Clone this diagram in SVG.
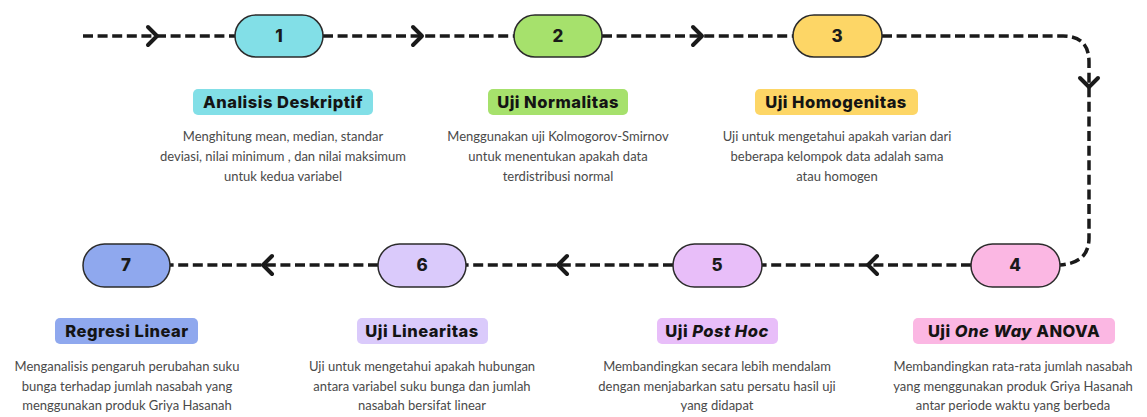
<svg xmlns="http://www.w3.org/2000/svg" width="1147" height="417" viewBox="0 0 1147 417">
<defs>
<style>
.bg{fill:#ffffff}
.pill{stroke:#2b2b2b;stroke-width:1.5}
.num{font-family:Inter,"Liberation Sans",sans-serif;font-weight:800;font-size:17px;fill:#1a1a1a;text-anchor:middle}
.ttl{font-family:Inter,"Liberation Sans",sans-serif;font-weight:800;font-size:16.5px;letter-spacing:0.5px;fill:#141414;text-anchor:middle}
.desc{font-family:Lato,"Noto Sans",sans-serif;font-size:13px;fill:#4a4a4a;text-anchor:middle}
.dash{fill:none;stroke:#1a1a1a;stroke-width:3.5;stroke-dasharray:10 4.6}
.chev{fill:none;stroke:#1a1a1a;stroke-width:4;stroke-linecap:round;stroke-linejoin:round}
</style>
</defs>
<rect class="bg" x="0" y="0" width="1147" height="417"/>
<g id="connectors">
<path class="dash" d="M83,36 H235"/>
<path class="dash" d="M323,36 H514"/>
<path class="dash" d="M602,36 H793"/>
<path class="dash" d="M882,36 H1063 Q1089,36 1089,62 V238 Q1089,263 1060,265"/>
<path class="dash" d="M971,265 H762"/>
<path class="dash" d="M673,265 H466"/>
<path class="dash" d="M378,265 H170"/>
<path class="chev" d="M148,27 L157,36 L148,45"/>
<path class="chev" d="M413,27 L422,36 L413,45"/>
<path class="chev" d="M693,27 L702,36 L693,45"/>
<path class="chev" d="M1080,78 L1089,87 L1098,78"/>
<path class="chev" d="M877,256 L868,265 L877,274"/>
<path class="chev" d="M567,256 L558,265 L567,274"/>
<path class="chev" d="M272,256 L263,265 L272,274"/>
</g>
<g id="node1">
<rect class="pill" x="235" y="15" width="88" height="42" rx="21" fill="#82dfe7"/>
<text class="num" x="279" y="42">1</text>
<rect x="193" y="89" width="180" height="26" rx="5" fill="#82dfe7"/>
<text class="ttl" x="283" y="108">Analisis Deskriptif</text>
<text class="desc" x="283" y="141">Menghitung mean, median, standar</text>
<text class="desc" x="283" y="161">deviasi, nilai minimum , dan nilai maksimum</text>
<text class="desc" x="283" y="181">untuk kedua variabel</text>
</g>
<g id="node2">
<rect class="pill" x="514" y="15" width="88" height="42" rx="21" fill="#a6e16c"/>
<text class="num" x="558" y="42">2</text>
<rect x="488" y="89" width="140" height="26" rx="5" fill="#a6e16c"/>
<text class="ttl" x="558" y="108">Uji Normalitas</text>
<text class="desc" x="558" y="141">Menggunakan uji Kolmogorov-Smirnov</text>
<text class="desc" x="558" y="161">untuk menentukan apakah data</text>
<text class="desc" x="558" y="181">terdistribusi normal</text>
</g>
<g id="node3">
<rect class="pill" x="793" y="15" width="89" height="42" rx="21" fill="#fdd666"/>
<text class="num" x="837" y="42">3</text>
<rect x="755" y="89" width="163" height="26" rx="5" fill="#fdd666"/>
<text class="ttl" x="836" y="108">Uji Homogenitas</text>
<text class="desc" x="837" y="141">Uji untuk mengetahui apakah varian dari</text>
<text class="desc" x="837" y="161">beberapa kelompok data adalah sama</text>
<text class="desc" x="837" y="181">atau homogen</text>
</g>
<g id="node4">
<rect class="pill" x="971" y="244" width="89" height="43" rx="21.5" fill="#fbb7e3"/>
<text class="num" x="1015" y="271">4</text>
<rect x="913" y="318" width="202" height="26" rx="5" fill="#fbb7e3"/>
<text class="ttl" x="1014" y="337">Uji <tspan font-style="italic">One Way</tspan> ANOVA</text>
<text class="desc" x="1013" y="371">Membandingkan rata-rata jumlah nasabah</text>
<text class="desc" x="1013" y="390.5">yang menggunakan produk Griya Hasanah</text>
<text class="desc" x="1013" y="410">antar periode waktu yang berbeda</text>
</g>
<g id="node5">
<rect class="pill" x="673" y="244" width="89" height="43" rx="21.5" fill="#e8bef9"/>
<text class="num" x="717" y="271">5</text>
<rect x="657" y="318" width="121" height="26" rx="5" fill="#e8bef9"/>
<text class="ttl" x="717" y="337">Uji <tspan font-style="italic">Post Hoc</tspan></text>
<text class="desc" x="717" y="371">Membandingkan secara lebih mendalam</text>
<text class="desc" x="717" y="390.5">dengan menjabarkan satu persatu hasil uji</text>
<text class="desc" x="717" y="410">yang didapat</text>
</g>
<g id="node6">
<rect class="pill" x="378" y="244" width="88" height="43" rx="21.5" fill="#dacafb"/>
<text class="num" x="422" y="271">6</text>
<rect x="357" y="318" width="131" height="26" rx="5" fill="#dacafb"/>
<text class="ttl" x="422" y="337">Uji Linearitas</text>
<text class="desc" x="422" y="371">Uji untuk mengetahui apakah hubungan</text>
<text class="desc" x="422" y="390.5">antara variabel suku bunga dan jumlah</text>
<text class="desc" x="422" y="410">nasabah bersifat linear</text>
</g>
<g id="node7">
<rect class="pill" x="83" y="244" width="87" height="43" rx="21.5" fill="#8fa8ee"/>
<text class="num" x="126" y="271">7</text>
<rect x="55" y="318" width="143" height="26" rx="5" fill="#8fa8ee"/>
<text class="ttl" x="127" y="337">Regresi Linear</text>
<text class="desc" x="127" y="371">Menganalisis pengaruh perubahan suku</text>
<text class="desc" x="127" y="390.5">bunga terhadap jumlah nasabah yang</text>
<text class="desc" x="127" y="410">menggunakan produk Griya Hasanah</text>
</g>
</svg>
